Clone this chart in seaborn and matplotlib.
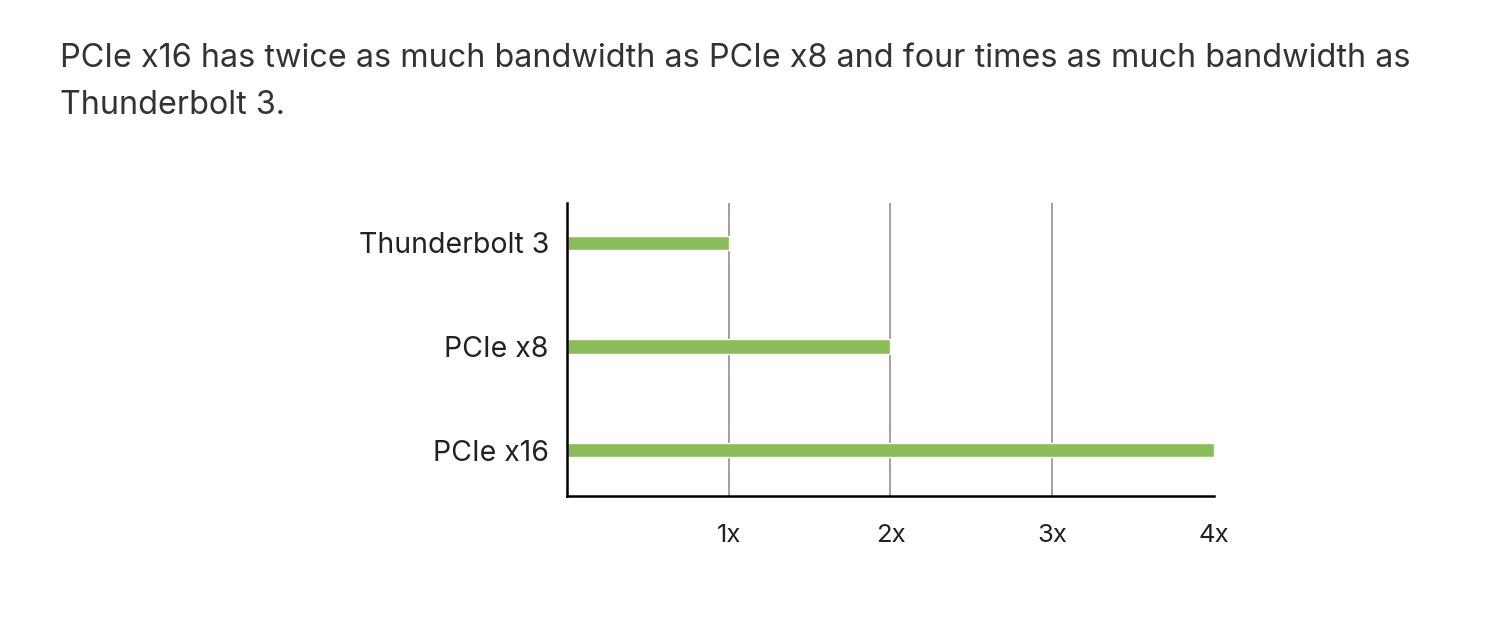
import matplotlib
matplotlib.use("Agg")
import matplotlib.pyplot as plt
import seaborn as sns
import pandas as pd

# data
links = ["Thunderbolt 3", "PCIe x8", "PCIe x16"]
bandwidth = [1, 2, 4]
x_ticks = [1, 2, 3, 4]
x_tick_labels = ["1x", "2x", "3x", "4x"]
title_lines = ["PCIe x16 has twice as much bandwidth as PCIe x8 and four times as much bandwidth as",
               "Thunderbolt 3."]

sns.set_style("white")
plt.rcParams['font.family'] = ['Inter', 'DejaVu Sans']

df = pd.DataFrame({"link": links, "bw": bandwidth})

fig = plt.figure(figsize=(15, 6.2), dpi=100)
ax = fig.add_axes([0.378, 0.2, 0.4313, 0.4726])

sns.barplot(data=df, x="bw", y="link", orient="h", color="#8bbd5a",
            saturation=1, width=0.14, ax=ax)

ax.set_xlim(0, 4)
ax.set_ylim(2.444, -0.386)

# vertical grid lines (none at the last tick)
ax.vlines(x_ticks[:-1], 2.444, -0.386, color="#a0a0a0", lw=1.4, zorder=0)

ax.set_xticks(x_ticks)
ax.set_xticklabels(x_tick_labels)
ax.tick_params(axis="x", length=0, pad=20, labelsize=18.5, labelcolor="#222222")
ax.tick_params(axis="y", length=0, pad=13, labelsize=20.5, labelcolor="#222222")
ax.set_xlabel("")
ax.set_ylabel("")

for s in ["top", "right"]:
    ax.spines[s].set_visible(False)
for s in ["left", "bottom"]:
    ax.spines[s].set_color("black")
    ax.spines[s].set_linewidth(1.8)

fig.text(60 / 1500, 1 - 67 / 620, title_lines[0], fontsize=23.3, color="#333333",
         ha="left", va="baseline")
fig.text(60 / 1500, 1 - 114 / 620, title_lines[1], fontsize=23.3, color="#333333",
         ha="left", va="baseline")

fig.savefig("out.png", dpi=100, facecolor="white")
